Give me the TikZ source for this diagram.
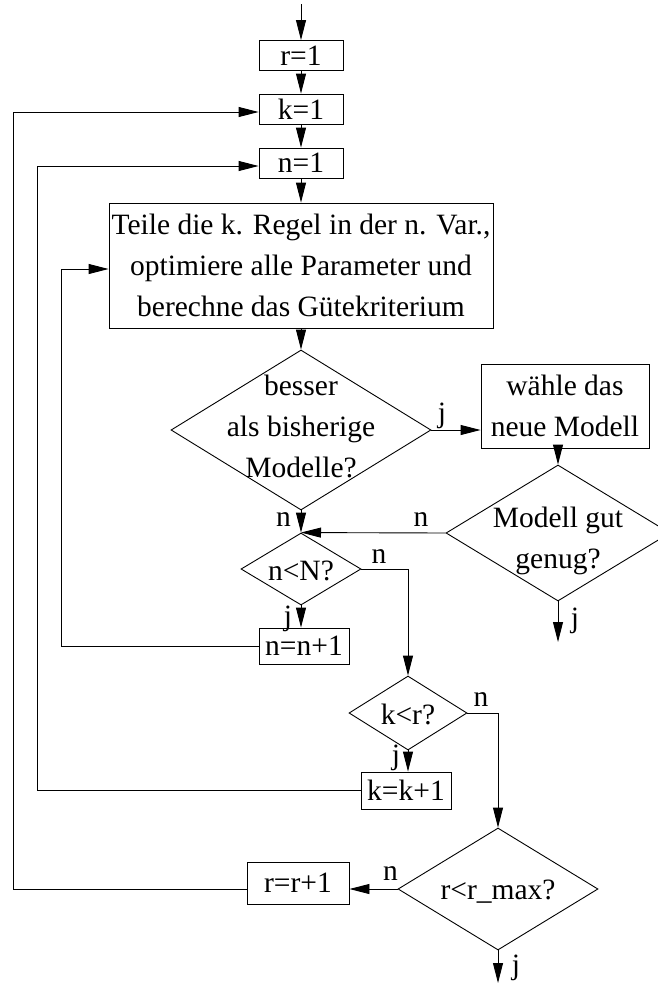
\documentclass[tikz,border=0pt]{standalone}
\usepackage{fontspec}
\setmainfont{Liberation Serif}
\usetikzlibrary{arrows.meta,shapes.geometric}
\begin{document}
\begin{tikzpicture}[x=1pt,y=-1pt,
  line width=0.9pt,
  every node/.style={font=\fontsize{29.5pt}{41pt}\selectfont, inner sep=0pt},
  box/.style={draw, rectangle, align=center},
  dia/.style={draw, diamond, inner sep=0pt},
  txt/.style={align=center},
  arr/.style={-{Triangle[length=20pt,width=10pt]}}
]
\useasboundingbox (0,0) rectangle (657,985);
% boxes
\coordinate (top) at (301,4);
\node[box, minimum width=84pt, minimum height=30pt] (r1) at (301,55.5) {r=1};
\node[box, minimum width=84pt, minimum height=30pt] (k1) at (301,109) {k=1};
\node[box, minimum width=84pt, minimum height=30pt] (n1) at (301,163) {n=1};
\node[box, minimum width=384pt, minimum height=125pt] (big) at (301,265.5) {Teile die k. Regel in der n. Var.,\\optimiere alle Parameter und\\berechne das Gütekriterium};
\node[dia, minimum width=260pt, minimum height=160pt] (besser) at (301,430) {};
\node[txt] (besserT) at (301,426.5) {besser\\als bisherige\\Modelle?};
\node[box, minimum width=168pt, minimum height=84pt] (waehle) at (565,406) {wähle das\\neue Modell};
\node[dia, minimum width=224pt, minimum height=136pt] (mg) at (558,533) {};
\node[txt] (mgT) at (558,540.5) {Modell gut\\genug?};
\node[dia, minimum width=120pt, minimum height=72pt] (nN) at (301,569) {};
\node (nNT) at (301,571) {n<N?};
\node[box, minimum width=90pt, minimum height=36pt] (nn1) at (304,646) {n=n+1};
\node[dia, minimum width=118pt, minimum height=74pt] (kr) at (408,713) {};
\node (krT) at (408,714) {k<r?};
\node[box, minimum width=90pt, minimum height=37pt] (kk1) at (406,790.5) {k=k+1};
\node[dia, minimum width=200pt, minimum height=122pt] (rmax) at (498,889) {};
\node (rmaxT) at (498,892) {r<r\_max?};
\node[box, minimum width=102pt, minimum height=42pt] (rr1) at (298,883) {r=r+1};
% connectors
\draw[arr] (top) -- (r1.north);
\draw[arr] (r1.south) -- (k1.north);
\draw[arr] (k1.south) -- (n1.north);
\draw[arr] (n1.south) -- (big.north);
\draw[arr] (big.south) -- (besser.north);
\draw[arr] (besser.east) -- (waehle.west |- besser.east);
\draw[arr] (mg.north |- waehle.south) -- (mg.north);
\draw[arr] (besser.south) -- (nN.north);
\draw[arr] (mg.west) -- (nN.north);
\draw[arr] (nN.east) -| (kr.north);
\draw[arr] (nN.south) -- (nN.south |- nn1.north);
\coordinate (l1) at (61,269);
\draw[arr] (nn1.west) -| (l1) -- (big.west |- l1);
\coordinate (mgend) at (558,642);
\draw[arr] (mg.south) -- (mgend);
\draw[arr] (kr.south) -- (kr.south |- kk1.north);
\draw[arr] (kr.east) -| (rmax.north);
\coordinate (l2) at (37,166);
\draw[arr] (kk1.west) -| (l2) -- (n1.west |- l2);
\draw[arr] (rmax.west) -- (rr1.east |- rmax.west);
\coordinate (l3) at (13,112);
\draw[arr] (rr1.west |- rmax.west) -| (l3) -- (k1.west |- l3);
\coordinate (rend) at (498,983);
\draw[arr] (rmax.south) -- (rend);
% labels
\node (lj1) at (442,415.5) {j};
\node (ln1) at (283.5,520) {n};
\node (ln2) at (421,520) {n};
\node (ln3) at (379,556.5) {n};
\node (lj2) at (288,619) {j};
\node (lj3) at (575,620.5) {j};
\node (ln4) at (481,700) {n};
\node (lj4) at (396,758) {j};
\node (ln5) at (390.5,873.5) {n};
\node (lj5) at (516,967.5) {j};
\end{tikzpicture}
\end{document}
